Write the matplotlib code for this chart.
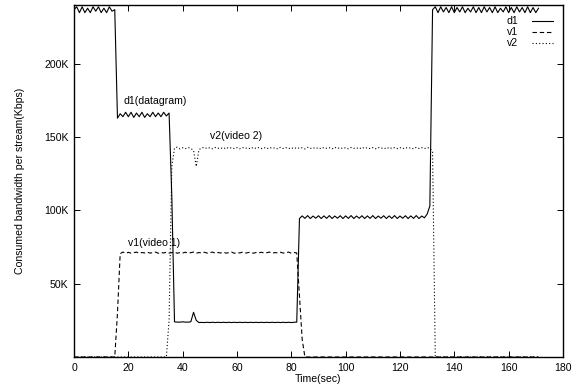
import numpy as np
import matplotlib
matplotlib.use("Agg")
import matplotlib.pyplot as plt

plt.rcParams["font.family"] = ["Liberation Sans", "DejaVu Sans"]
plt.rcParams["font.size"] = 7.6

# =============================================================================
# DATA (bandwidth in thousands, one sample per second)
# =============================================================================

time_s = np.arange(0, 172)

d1_k = [
    237, 239, 235, 239, 235, 238, 235, 239, 236, 239,
    235, 238, 235, 239, 236, 237, 163, 166, 164, 167,
    164, 167, 163.5, 166.5, 164, 167, 163.5, 166, 164, 167,
    164, 166.5, 164, 167, 164.5, 166.5, 110, 24, 23.8, 23.8,
    24, 23.8, 23.8, 24, 30.5, 25, 23.5, 23.6, 23.5, 23.7,
    23.5, 23.7, 23.5, 23.7, 23.5, 23.7, 23.5, 23.7, 23.5, 23.7,
    23.5, 23.7, 23.5, 23.7, 23.5, 23.7, 23.5, 23.7, 23.5, 23.7,
    23.5, 23.7, 23.5, 23.7, 23.5, 23.7, 23.5, 23.7, 23.5, 23.7,
    23.5, 23.7, 23.8, 94.5, 96.3, 94.6, 96.5, 94.5, 96.2, 94.7,
    96.4, 94.5, 96.3, 94.6, 96.5, 94.5, 96.2, 94.7, 96.4, 94.5,
    96.3, 94.6, 96.5, 94.5, 96.2, 94.7, 96.4, 94.5, 96.3, 94.6,
    96.5, 94.5, 96.2, 94.7, 96.4, 94.5, 96.3, 94.6, 96.5, 94.5,
    96.2, 94.7, 96.4, 94.5, 96.3, 94.6, 96.5, 94.5, 96.2, 95.0,
    97.5, 103, 237, 239, 235, 239, 235.5, 238.5, 235, 239,
    235, 238.5, 235.5, 239, 235, 238, 235.5, 239, 235, 238.5,
    235, 239, 235.5, 238.5, 235, 239, 235, 238, 235.5, 239,
    235, 238.5, 235, 239, 235.5, 238.5, 235, 239, 235, 238.5,
    235, 238,
]

v1_k = [
    0, 0, 0, 0, 0, 0, 0, 0, 0, 0,
    0, 0, 0, 0, 0, 0, 30, 70.5, 71.6, 70.8,
    71.4, 70.9, 71.2, 71.6, 70.8, 71.3, 71.0, 71.5, 70.9, 71.2,
    71.6, 70.8, 71.3, 71.0, 71.5, 70.9, 71.2, 71.6, 70.8, 71.3,
    71.0, 71.5, 70.9, 71.2, 71.6, 70.8, 71.3, 71.0, 71.5, 70.9,
    71.2, 71.6, 70.8, 71.3, 71.0, 71.5, 70.9, 71.2, 71.6, 70.8,
    71.3, 71.0, 71.5, 70.9, 71.2, 71.6, 70.8, 71.3, 71.0, 71.5,
    70.9, 71.2, 71.6, 70.8, 71.3, 71.0, 71.5, 70.9, 71.2, 71.6,
    70.8, 71.3, 71.0, 42, 12, 0, 0, 0, 0, 0,
    0, 0, 0, 0, 0, 0, 0, 0, 0, 0,
    0, 0, 0, 0, 0, 0, 0, 0, 0, 0,
    0, 0, 0, 0, 0, 0, 0, 0, 0, 0,
    0, 0, 0, 0, 0, 0, 0, 0, 0, 0,
    0, 0, 0, 0, 0, 0, 0, 0, 0, 0,
    0, 0, 0, 0, 0, 0, 0, 0, 0, 0,
    0, 0, 0, 0, 0, 0, 0, 0, 0, 0,
    0, 0, 0, 0, 0, 0, 0, 0, 0, 0,
    0, 0,
]

v2_k = [
    0, 0, 0, 0, 0, 0, 0, 0, 0, 0,
    0, 0, 0, 0, 0, 0, 0, 0, 0, 0,
    0, 0, 0, 0, 0, 0, 0, 0, 0, 0,
    0, 0, 0, 0, 0, 25, 130, 142.5, 143.2, 142.0,
    142.8, 142.2, 143.0, 142.3, 141, 130, 141.5, 142.6, 143.1, 142.2,
    142.9, 142.1, 143.0, 142.4, 142.8, 142.0, 143.1, 142.3, 142.9, 142.2,
    142.9, 142.1, 143.0, 142.4, 142.8, 142.0, 143.1, 142.3, 142.9, 142.2,
    142.9, 142.1, 143.0, 142.4, 142.8, 142.0, 143.1, 142.3, 142.9, 142.2,
    142.9, 142.1, 143.0, 142.4, 142.8, 142.0, 143.1, 142.3, 142.9, 142.2,
    142.9, 142.1, 143.0, 142.4, 142.8, 142.0, 143.1, 142.3, 142.9, 142.2,
    142.9, 142.1, 143.0, 142.4, 142.8, 142.0, 143.1, 142.3, 142.9, 142.2,
    142.9, 142.1, 143.0, 142.4, 142.8, 142.0, 143.1, 142.3, 142.9, 142.2,
    142.9, 142.1, 143.0, 142.4, 142.8, 142.0, 143.1, 142.3, 142.9, 142.2,
    142.9, 142.5, 140, 0, 0, 0, 0, 0, 0, 0,
    0, 0, 0, 0, 0, 0, 0, 0, 0, 0,
    0, 0, 0, 0, 0, 0, 0, 0, 0, 0,
    0, 0, 0, 0, 0, 0, 0, 0, 0, 0,
    0, 0,
]

series_names = ["d1", "v1", "v2"]
x_ticks = list(range(0, 181, 20))
y_ticks = [50, 100, 150, 200]

# =============================================================================
# PLOT
# =============================================================================

fig = plt.figure(figsize=(5.8, 3.88), dpi=100)
ax = fig.add_axes([0.1276, 0.0799, 0.843, 0.9064])

lw = 0.8
ax.plot(time_s, d1_k, color="black", lw=lw, ls="-", label=series_names[0])
ax.plot(time_s, v1_k, color="black", lw=lw, ls=(0, (4, 2.5)), label=series_names[1])
ax.plot(time_s, v2_k, color="black", lw=lw, ls=(0, (1, 2)), label=series_names[2])

ax.text(18.4, 175, "d1(datagram)", ha="left", va="center")
ax.text(19.8, 77.5, "v1(video 1)", ha="left", va="center")
ax.text(50.0, 150.5, "v2(video 2)", ha="left", va="center")

ax.set_xlim(0, 180)
ax.set_ylim(0, 240)
ax.set_xticks(x_ticks)
ax.set_yticks(y_ticks)
ax.set_yticklabels([f"{v}K" for v in y_ticks])
ax.tick_params(direction="in", top=True, right=True, length=4, width=0.7, pad=4)
for sp in ax.spines.values():
    sp.set_linewidth(1.0)

ax.set_xlabel("Time(sec)", labelpad=1)
ax.set_ylabel("Consumed bandwidth per stream(Kbps)", labelpad=14)

ax.legend(loc="upper right", bbox_to_anchor=(0.98, 0.969), frameon=False,
          markerfirst=False, handlelength=2.0, handletextpad=1.3,
          labelspacing=0.1, borderaxespad=0.0, borderpad=0.0)

fig.savefig("out.png", dpi=100)
